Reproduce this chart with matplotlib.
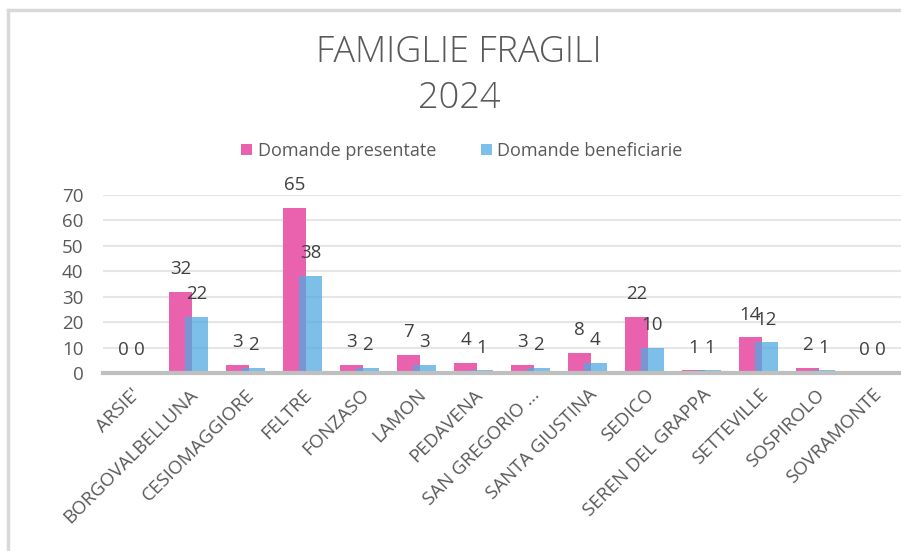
import numpy as np
import matplotlib
matplotlib.use("Agg")
import matplotlib.pyplot as plt
from matplotlib.lines import Line2D

comuni = ["ARSIE'", "BORGOVALBELLUNA", "CESIOMAGGIORE", "FELTRE", "FONZASO",
          "LAMON", "PEDAVENA", "SAN GREGORIO ...", "SANTA GIUSTINA", "SEDICO",
          "SEREN DEL GRAPPA", "SETTEVILLE", "SOSPIROLO", "SOVRAMONTE"]
presentate = [0, 32, 3, 65, 3, 7, 4, 3, 8, 22, 1, 14, 2, 0]
beneficiarie = [0, 22, 2, 38, 2, 3, 1, 2, 4, 10, 1, 12, 1, 0]

pink = "#EA62AE"
blue = "#50AAE1"
text_col = "#595959"
label_col = "#404040"

plt.rcParams['font.family'] = ['Open Sans', 'DejaVu Sans']

fig = plt.figure(figsize=(9.01, 5.51), dpi=100)
ax = fig.add_axes([103 / 901, 1 - 373 / 551, 1 - 103 / 901, (373 - 195) / 551])

x = np.arange(len(comuni))
w = 0.40
off = 0.14
b1 = ax.bar(x - off, presentate, w, color=pink, zorder=2, label="Domande presentate")
b2 = ax.bar(x + off, beneficiarie, w, color=blue, alpha=0.75, zorder=3,
            label="Domande beneficiarie")

for bars, vals in ((b1, presentate), (b2, beneficiarie)):
    for rect, v in zip(bars, vals):
        ax.annotate(str(v), (rect.get_x() + rect.get_width() / 2, v),
                    xytext=(0, 10), textcoords="offset points",
                    ha="center", va="bottom", fontsize=13.5, color=label_col,
                    zorder=5)

ax.set_xlim(-0.5, len(comuni) - 0.5)
ax.set_ylim(0, 70)
ax.set_yticks(range(0, 71, 10))
ax.grid(axis="y", color="#e6e6e6", lw=1.5, zorder=0)
ax.set_axisbelow(True)
for s in ["top", "right", "left"]:
    ax.spines[s].set_visible(False)
ax.spines["bottom"].set_color("#bfbfbf")
ax.spines["bottom"].set_linewidth(3)
ax.spines["bottom"].set_zorder(4)

ax.set_xticks(x)
ax.set_xticklabels(comuni, rotation=45, ha="right", va="top", rotation_mode="anchor",
                   fontsize=13.5, color=text_col)
ax.tick_params(axis="x", length=0, pad=9)
ax.tick_params(axis="y", length=0, pad=14, labelsize=13.5, labelcolor=text_col)

fig.text(459 / 901, 1 - 52 / 551, "FAMIGLIE FRAGILI", ha="center", va="center",
         fontsize=26, color=text_col, fontweight="light")
fig.text(459 / 901, 1 - 98 / 551, "2024", ha="center", va="center",
         fontsize=26, color=text_col, fontweight="light")

fig.legend(handles=[b1, b2], loc="center", bbox_to_anchor=(462 / 901, 1 - 151 / 551),
           ncol=2, frameon=False, fontsize=13, handlelength=0.6, handleheight=0.6,
           handletextpad=0.3, columnspacing=2.5, labelcolor=text_col)

# chart frame (left and top edges visible in the original)
fig.add_artist(Line2D([8 / 901, 8 / 901], [0, 1 - 10 / 551], color="#d9d9d9", lw=2.5,
                      transform=fig.transFigure))
fig.add_artist(Line2D([8 / 901, 1], [1 - 10 / 551, 1 - 10 / 551], color="#d9d9d9",
                      lw=2.5, transform=fig.transFigure))

fig.savefig("out.png", dpi=100)
